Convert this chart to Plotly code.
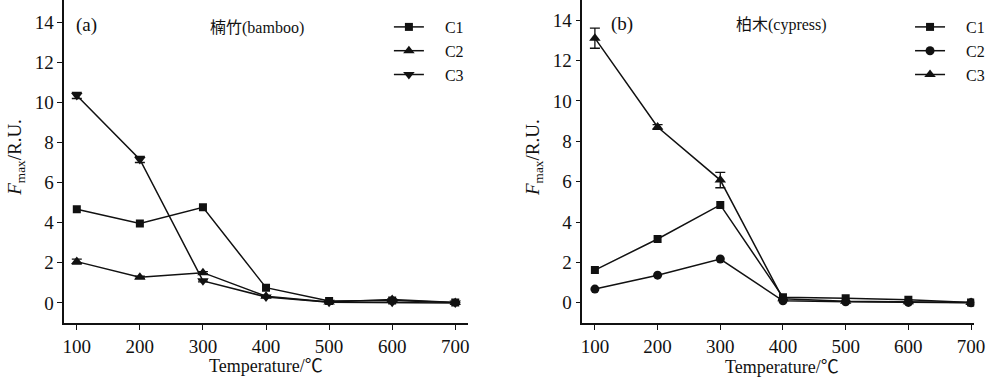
import plotly.graph_objects as go

temps = [100, 200, 300, 400, 500, 600, 700]

# panel (a) bamboo
a_c1 = [4.67, 3.96, 4.77, 0.76, 0.10, 0.12, 0.02]
a_c2 = [2.06, 1.28, 1.51, 0.33, 0.05, 0.17, 0.02]
a_c3 = [10.34, 7.15, 1.10, 0.30, 0.03, 0.03, 0.00]
a_c2_err = [0.12, 0.05, 0.05, 0.03, 0.0, 0.03, 0.0]
a_c3_err = [0.15, 0.15, 0.05, 0.03, 0.0, 0.0, 0.0]

# panel (b) cypress
b_c1 = [1.62, 3.16, 4.85, 0.28, 0.22, 0.15, 0.01]
b_c2 = [0.68, 1.37, 2.17, 0.10, 0.05, 0.02, 0.00]
b_c3 = [13.11, 8.71, 6.08, 0.20, 0.08, 0.05, 0.02]
b_c3_err = [0.50, 0.12, 0.38, 0.04, 0.0, 0.0, 0.0]

series_names = ["C1", "C2", "C3"]
x_ticks = [100, 200, 300, 400, 500, 600, 700]
y_ticks = [0, 2, 4, 6, 8, 10, 12, 14]

SERIF = "Liberation Serif"
SERIF_CJK = "Liberation Serif, Noto Sans CJK SC"
BLACK = "#111111"
NB = "\u2002\u2002"

fig = go.Figure()

def add(x, y, name, symbol, size, xa, ya, legend, err=None):
    kw = {}
    if err is not None:
        kw["error_y"] = dict(type="data", array=err, visible=True, color=BLACK,
                             thickness=1.3, width=5)
    fig.add_trace(go.Scatter(
        x=x, y=y, name=NB + name, mode="lines+markers",
        line=dict(color=BLACK, width=1.5),
        marker=dict(symbol=symbol, size=size, color=BLACK),
        xaxis=xa, yaxis=ya, legend=legend, **kw))

add(temps, a_c1, series_names[0], "square", 8, "x", "y", "legend")
add(temps, a_c2, series_names[1], "triangle-up", 10, "x", "y", "legend", a_c2_err)
add(temps, a_c3, series_names[2], "triangle-down", 10, "x", "y", "legend", a_c3_err)

add(temps, b_c1, series_names[0], "square", 8, "x2", "y2", "legend2")
add(temps, b_c2, series_names[1], "circle", 9, "x2", "y2", "legend2")
add(temps, b_c3, series_names[2], "triangle-up", 10, "x2", "y2", "legend2", b_c3_err)

axis_common = dict(
    showline=True, linecolor=BLACK, linewidth=1.5,
    ticks="outside", ticklen=5, tickwidth=1.3, tickcolor=BLACK,
    showgrid=False, zeroline=False, mirror=False,
    tickfont=dict(family=SERIF, size=19, color=BLACK),
)

ydom = [56 / 379, 1.0]
fig.update_layout(
    width=1000, height=379,
    margin=dict(l=0, r=0, t=0, b=0),
    paper_bgcolor="white", plot_bgcolor="white",
    font=dict(family=SERIF, color=BLACK),
    xaxis=dict(domain=[0.063, 0.472], range=[80, 720], tickvals=x_ticks,
               anchor="y", **axis_common),
    yaxis=dict(domain=ydom, range=[-1.0, 15.1], tickvals=y_ticks,
               anchor="x", **axis_common),
    xaxis2=dict(domain=[0.588, 0.985], range=[80, 705], tickvals=x_ticks,
                anchor="y2", **axis_common),
    yaxis2=dict(domain=ydom, range=[-1.0, 15.0], tickvals=y_ticks,
                anchor="x2", **axis_common),
    legend=dict(x=0.392, y=1 - 10 / 379, xanchor="left", yanchor="top",
                bgcolor="rgba(0,0,0,0)", font=dict(family=SERIF, size=16, color=BLACK),
                tracegroupgap=0, itemsizing="trace"),
    legend2=dict(x=0.920, y=1 - 10 / 379, xanchor="left", yanchor="top",
                 bgcolor="rgba(0,0,0,0)", font=dict(family=SERIF, size=16, color=BLACK),
                 tracegroupgap=0, itemsizing="trace"),
    showlegend=True,
)

annots = [
    dict(x=73 / 1000, y=1 - 25 / 379, text="(a)", xanchor="left", size=19),
    dict(x=258 / 1000, y=1 - 28 / 379, text="楠竹(bamboo)", xanchor="center", size=16),
    dict(x=615 / 1000, y=1 - 24 / 379, text="(b)", xanchor="left", size=19),
    dict(x=790 / 1000, y=1 - 25 / 379, text="柏木(cypress)", xanchor="center", size=16),
    dict(x=267 / 1000, y=1 - 366 / 379, text="Temperature/℃", xanchor="center", size=18),
    dict(x=790 / 1000, y=1 - 367 / 379, text="Temperature/℃", xanchor="center", size=18),
]
for a in annots:
    fig.add_annotation(x=a["x"], y=a["y"], xref="paper", yref="paper", text=a["text"],
                       showarrow=False, xanchor=a["xanchor"], yanchor="middle",
                       font=dict(family=SERIF_CJK, size=a["size"], color=BLACK))

for xc in (14 / 1000, 539 / 1000):
    fig.add_annotation(x=xc, y=1 - 157 / 379, xref="paper", yref="paper",
                       text="<i>F</i><sub>max</sub>/R.U.", textangle=-90,
                       showarrow=False, xanchor="center", yanchor="middle",
                       font=dict(family=SERIF, size=19, color=BLACK))

fig.write_html("out.html", config={"displayModeBar": False},
               post_script="document.body.style.margin='0';document.body.style.padding='0';")
